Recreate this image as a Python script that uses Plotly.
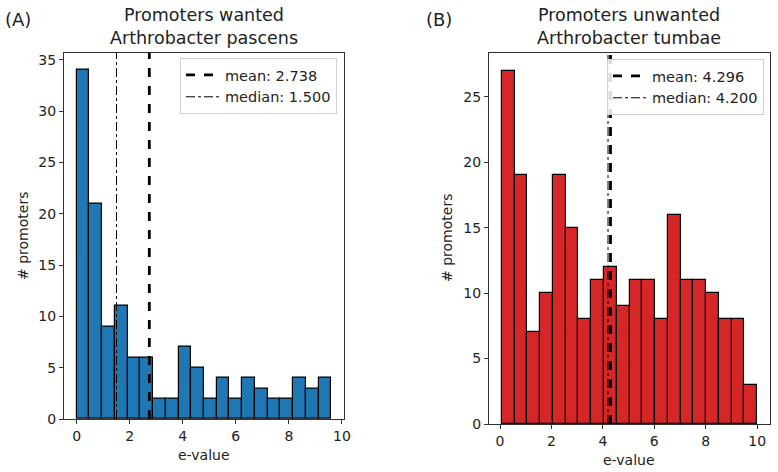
import numpy as np
import plotly.graph_objects as go

# panel A: promoters wanted, Arthrobacter pascens
counts_a = [34, 21, 9, 11, 6, 6, 2, 2, 7, 5, 2, 4, 2, 4, 3, 2, 2, 4, 3, 4]
range_a = (0.0, 9.6)
mean_a = 2.738
median_a = 1.500

# panel B: promoters unwanted, Arthrobacter tumbae
counts_b = [27, 19, 7, 10, 19, 15, 8, 11, 12, 9, 11, 11, 8, 16, 11, 11, 10, 8, 8, 3]
range_b = (0.07, 10.0)
mean_b = 4.296
median_b = 4.200

W, H = 778, 472
FONT = "DejaVu Sans"


def px_x(p):
    # window pixel -> paper fraction
    return p / W


def px_y(p):
    return 1 - p / H


def bins(counts, lo, hi):
    edges = np.linspace(lo, hi, len(counts) + 1)
    return (edges[:-1] + edges[1:]) / 2, edges[1] - edges[0]


fig = go.Figure()

panels = [
    dict(counts=counts_a, rng=range_a, mean=mean_a, median=median_a, color="#1f77b4",
         xa="x", ya="y", legend="legend"),
    dict(counts=counts_b, rng=range_b, mean=mean_b, median=median_b, color="#d62728",
         xa="x2", ya="y2", legend="legend2"),
]

for p in panels:
    centers, width = bins(p["counts"], *p["rng"])
    ytop = max(p["counts"]) * 1.05
    fig.add_trace(go.Bar(
        x=centers, y=p["counts"], width=width,
        marker=dict(color=p["color"], line=dict(color="black", width=1.2)),
        xaxis=p["xa"], yaxis=p["ya"], showlegend=False,
    ))
    fig.add_trace(go.Scatter(
        x=[p["mean"], p["mean"]], y=[0, ytop], mode="lines",
        line=dict(color="black", width=2.8, dash="dash"),
        name=f"mean: {p['mean']:.3f}", xaxis=p["xa"], yaxis=p["ya"], legend=p["legend"],
    ))
    fig.add_trace(go.Scatter(
        x=[p["median"], p["median"]], y=[0, ytop], mode="lines",
        line=dict(color="black", width=1, dash="dashdot"),
        name=f"median: {p['median']:.3f}", xaxis=p["xa"], yaxis=p["ya"], legend=p["legend"],
    ))

axis_style = dict(
    showline=True, mirror=True, linecolor="#333", linewidth=1, automargin=False,
    ticks="outside", ticklen=4, tickcolor="#333", showgrid=False, zeroline=False,
    tickfont=dict(family=FONT, size=14, color="#222"),
)

legend_style = dict(
    bgcolor="rgba(255,255,255,0.85)", bordercolor="#d0d0d0", borderwidth=1,
    font=dict(family=FONT, size=14.5, color="#222"),
    xanchor="right", yanchor="top", tracegroupgap=0, itemwidth=34,
)

fig.update_layout(
    width=W, height=H,
    margin=dict(l=0, r=0, t=0, b=0, autoexpand=False),
    paper_bgcolor="white", plot_bgcolor="white",
    bargap=0,
    xaxis=dict(domain=[px_x(64), px_x(344)], range=[-0.48, 10.08], tickvals=[0, 2, 4, 6, 8, 10],
               anchor="y", **axis_style),
    yaxis=dict(domain=[px_y(419), px_y(52.7)], range=[0, max(counts_a) * 1.05],
               tickvals=[0, 5, 10, 15, 20, 25, 30, 35], anchor="x", **axis_style),
    xaxis2=dict(domain=[px_x(489), px_x(770)], range=[-0.43, 10.5], tickvals=[0, 2, 4, 6, 8, 10],
                anchor="y2", **axis_style),
    yaxis2=dict(domain=[px_y(424), px_y(53)], range=[0, max(counts_b) * 1.05],
                tickvals=[0, 5, 10, 15, 20, 25], anchor="x2", **axis_style),
    legend=dict(x=px_x(337), y=px_y(58), **legend_style),
    legend2=dict(x=px_x(764), y=px_y(59), **legend_style),
)

text_font = dict(family=FONT, color="#222")
annotations = [
    dict(text="Promoters wanted<br>Arthrobacter pascens", x=px_x(204), y=px_y(27), size=17.5),
    dict(text="Promoters unwanted<br>Arthrobacter tumbae", x=px_x(629), y=px_y(27), size=17.5),
    dict(text="(A)", x=px_x(18), y=px_y(19), size=18),
    dict(text="(B)", x=px_x(439), y=px_y(19), size=18),
    dict(text="e-value", x=px_x(204), y=px_y(455), size=14),
    dict(text="e-value", x=px_x(629), y=px_y(460), size=14),
    dict(text="# promoters", x=px_x(23), y=px_y(236), size=14, angle=-90),
    dict(text="# promoters", x=px_x(447), y=px_y(238), size=14, angle=-90),
]
for a in annotations:
    fig.add_annotation(
        text=a["text"], x=a["x"], y=a["y"], xref="paper", yref="paper",
        xanchor="center", yanchor="middle", showarrow=False,
        textangle=a.get("angle", 0),
        font=dict(size=a["size"], **text_font),
    )

# drop the browser's default body margin so the figure fills the window exactly
fig.write_html(
    "out.html",
    config={"displayModeBar": False},
    post_script="document.body.style.margin = '0';",
)
